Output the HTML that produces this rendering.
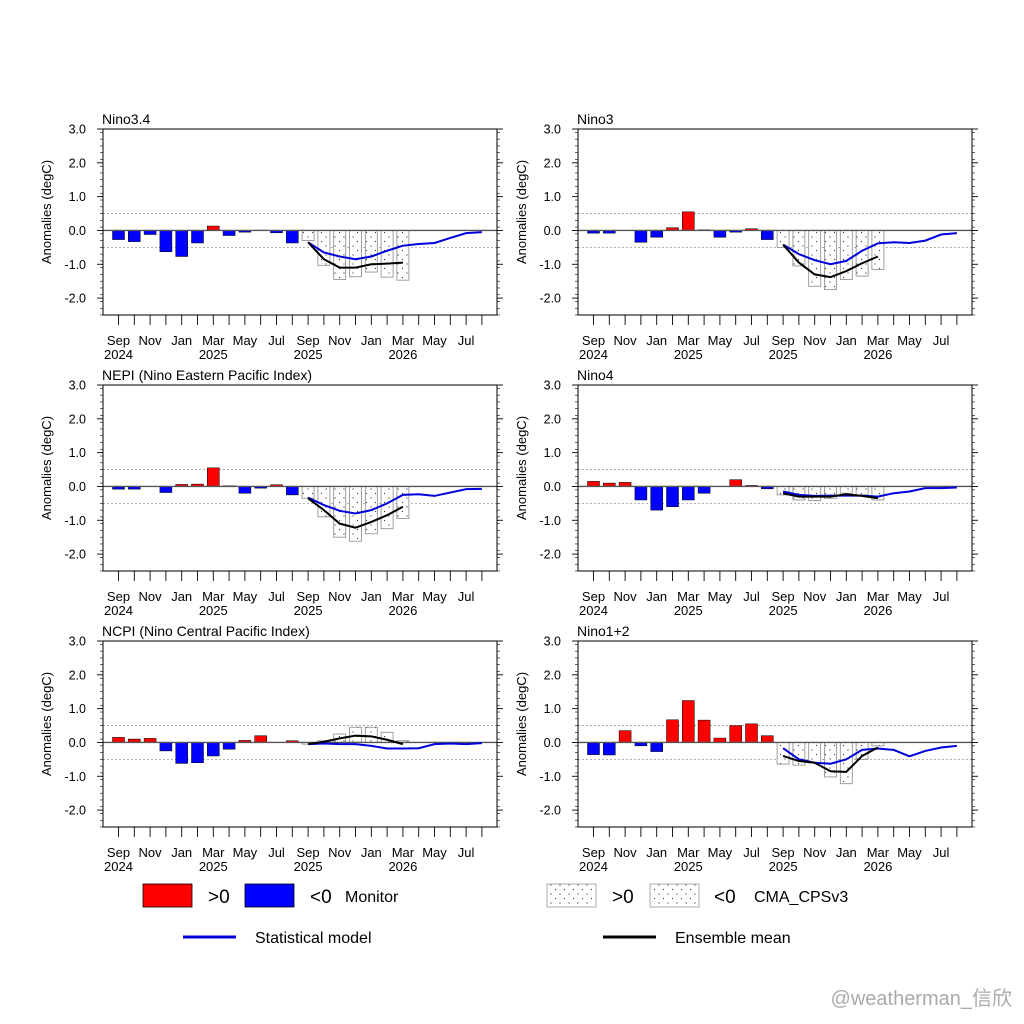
<!DOCTYPE html>
<html><head><meta charset="utf-8">
<style>
body{margin:0;background:#fff;}
svg{display:block;font-family:"Liberation Sans",Arial,sans-serif;}
</style></head>
<body>
<svg id="chart" width="1024" height="1024" viewBox="0 0 1024 1024">
<defs>
<pattern id="stip" width="9" height="9" patternUnits="userSpaceOnUse">
<rect width="9" height="9" fill="#fff"/><circle cx="2" cy="3" r="0.6" fill="#333"/><circle cx="6.5" cy="7.5" r="0.6" fill="#333"/>
</pattern>
</defs>
<g id="panels"></g>
<g>
<rect x="143" y="884" width="49" height="23" fill="#f00" stroke="#000" stroke-width="0.8"/>
<text x="208" y="903" font-size="19">&gt;0</text>
<rect x="245" y="884" width="49" height="23" fill="#00f" stroke="#000" stroke-width="0.8"/>
<text x="310" y="903" font-size="19">&lt;0</text>
<text x="345" y="902" font-size="16">Monitor</text>
<rect x="547" y="884" width="49" height="23" fill="url(#stip)" stroke="#999" stroke-width="0.8"/>
<text x="612" y="903" font-size="19">&gt;0</text>
<rect x="650" y="884" width="49" height="23" fill="url(#stip)" stroke="#999" stroke-width="0.8"/>
<text x="714" y="903" font-size="19">&lt;0</text>
<text x="754" y="902" font-size="16">CMA_CPSv3</text>
<line x1="183" y1="937" x2="236" y2="937" stroke="#0000dd" stroke-width="3"/>
<text x="255" y="943" font-size="16">Statistical model</text>
<line x1="603" y1="937" x2="656" y2="937" stroke="#000" stroke-width="3"/>
<text x="675" y="943" font-size="16">Ensemble mean</text>
</g>
<text x="1012" y="1005" font-size="20" fill="#aaa" text-anchor="end" font-family="'Liberation Sans','Noto Sans CJK SC',sans-serif">@weatherman_信欣</text>
</svg>
<script>
const titles=["Nino3.4","Nino3","NEPI (Nino Eastern Pacific Index)","Nino4","NCPI (Nino Central Pacific Index)","Nino1+2"];
const monthLabels=["Sep","Nov","Jan","Mar","May","Jul","Sep","Nov","Jan","Mar","May","Jul"];
const yearLabels=["2024","","","2025","","","2025","","","2026","",""];
const yTicks=[3,2,1,0,-1,-2];
const monitorN34=[-0.27,-0.33,-0.12,-0.63,-0.77,-0.37,0.13,-0.15,-0.05,0.01,-0.07,-0.37];
const cmaN34=[-0.3,-1.03,-1.45,-1.37,-1.23,-1.38,-1.47];
const statN34=[-0.35,-0.65,-0.77,-0.85,-0.77,-0.6,-0.45,-0.4,-0.37,-0.22,-0.08,-0.05];
const ensN34=[-0.35,-0.85,-1.1,-1.1,-1.0,-0.98,-0.95];
const monitorN3=[-0.08,-0.08,0,-0.35,-0.2,0.08,0.55,0.02,-0.2,-0.05,0.05,-0.27];
const cmaN3=[-0.5,-1.05,-1.65,-1.75,-1.45,-1.35,-1.15];
const statN3=[-0.42,-0.7,-0.88,-1.0,-0.9,-0.6,-0.38,-0.35,-0.37,-0.3,-0.12,-0.08];
const ensN3=[-0.42,-0.95,-1.3,-1.38,-1.2,-0.97,-0.77];
const monitorNEPI=[-0.08,-0.08,0,-0.18,0.06,0.07,0.55,0.02,-0.2,-0.05,0.05,-0.25];
const cmaNEPI=[-0.35,-0.9,-1.5,-1.62,-1.4,-1.25,-0.95];
const statNEPI=[-0.33,-0.55,-0.72,-0.8,-0.7,-0.5,-0.25,-0.23,-0.28,-0.18,-0.08,-0.07];
const ensNEPI=[-0.35,-0.7,-1.1,-1.22,-1.05,-0.85,-0.6];
const monitorN4=[0.15,0.1,0.12,-0.4,-0.7,-0.6,-0.4,-0.2,0,0.2,0.03,-0.07];
const cmaN4=[-0.25,-0.4,-0.42,-0.35,-0.2,-0.25,-0.4];
const statN4=[-0.15,-0.25,-0.28,-0.27,-0.27,-0.27,-0.3,-0.2,-0.15,-0.05,-0.05,-0.03];
const ensN4=[-0.2,-0.3,-0.3,-0.3,-0.23,-0.28,-0.35];
const monitorNCPI=[0.15,0.1,0.12,-0.25,-0.62,-0.6,-0.4,-0.2,0.06,0.2,0.0,0.05];
const cmaNCPI=[-0.05,0.05,0.25,0.45,0.45,0.3,0.05];
const statNCPI=[-0.05,-0.03,-0.05,-0.05,-0.1,-0.18,-0.18,-0.17,-0.05,-0.03,-0.05,-0.02];
const ensNCPI=[-0.05,0.02,0.12,0.2,0.18,0.08,-0.05];
const monitorN12=[-0.36,-0.37,0.35,-0.1,-0.27,0.67,1.24,0.66,0.13,0.5,0.55,0.2];
const cmaN12=[-0.64,-0.67,-0.6,-1.02,-1.22,-0.5,-0.1];
const statN12=[-0.17,-0.5,-0.6,-0.63,-0.5,-0.22,-0.18,-0.22,-0.41,-0.25,-0.15,-0.1];
const ensN12=[-0.4,-0.55,-0.6,-0.85,-0.87,-0.4,-0.15];
const monitors=[monitorN34,monitorN3,monitorNEPI,monitorN4,monitorNCPI,monitorN12];
const cmas=[cmaN34,cmaN3,cmaNEPI,cmaN4,cmaNCPI,cmaN12];
const stats=[statN34,statN3,statNEPI,statN4,statNCPI,statN12];
const enss=[ensN34,ensN3,ensNEPI,ensN4,ensNCPI,ensN12];
const NS="http://www.w3.org/2000/svg";
const root=document.getElementById('panels');
function mk(tag,attrs,parent){const e=document.createElementNS(NS,tag);for(const k in attrs)e.setAttribute(k,attrs[k]);parent.appendChild(e);return e;}
for(let p=0;p<6;p++){
  const ox=103+(p%2)*475, oy=129+Math.floor(p/2)*256;
  const W=394,H=186;
  const ymap=v=>oy+(3-v)*H/5.5;
  const xmap=i=>ox+15.5+i*15.8;
  const g=mk('g',{},root);
  
  
  const t=mk('text',{x:ox-1,y:oy-5,'font-size':14},g);t.textContent=titles[p];
  
  
  const yl=mk('text',{x:0,y:0,'font-size':13,'text-anchor':'middle',transform:`translate(${ox-52},${oy+H/2-10}) rotate(-90)`},g);yl.textContent='Anomalies (degC)';
  
  
  for(let k=-25;k<=30;k+=2){const y=ymap(k/10);
    mk('line',{x1:ox-3,x2:ox,y1:y,y2:y,stroke:'#000','stroke-width':0.6},g);
    mk('line',{x1:ox+W,x2:ox+W+3,y1:y,y2:y,stroke:'#000','stroke-width':0.6},g);}
  yTicks.forEach(v=>{const y=ymap(v);
    mk('line',{x1:ox-6,x2:ox,y1:y,y2:y,stroke:'#000','stroke-width':0.9},g);
    mk('line',{x1:ox+W,x2:ox+W+6,y1:y,y2:y,stroke:'#000','stroke-width':0.9},g);
    const tl=mk('text',{x:ox-17,y:y+4.5,'font-size':12.5,'text-anchor':'end'},g);tl.textContent=v.toFixed(1);
    
    });
  mk('line',{x1:ox,x2:ox+W,y1:ymap(0.5),y2:ymap(0.5),stroke:'#999','stroke-width':0.8,'stroke-dasharray':'2,2'},g);
  mk('line',{x1:ox,x2:ox+W,y1:ymap(-0.5),y2:ymap(-0.5),stroke:'#999','stroke-width':0.8,'stroke-dasharray':'2,2'},g);
  monitors[p].forEach((v,i)=>{const y0=ymap(0),y1=ymap(v);
    const r=mk('rect',{x:xmap(i)-6,y:Math.min(y0,y1),width:12,height:Math.abs(y1-y0),fill:v>=0?'#f00':'#00f',stroke:'#000','stroke-width':0.5},g);
    
    });
  cmas[p].forEach((v,i)=>{const y0=ymap(0),y1=ymap(v);
    const r=mk('rect',{x:xmap(i+12)-6,y:Math.min(y0,y1),width:12,height:Math.abs(y1-y0),fill:'url(#stip)',stroke:'#888','stroke-width':0.8},g);
    
    });
  mk('line',{x1:ox,x2:ox+W,y1:ymap(0),y2:ymap(0),stroke:'#555','stroke-width':1.3},g);
  const sp=mk('polyline',{points:stats[p].map((v,i)=>xmap(i+12)+','+ymap(v)).join(' '),fill:'none',stroke:'#0000dd','stroke-width':2},g);
  
  
  const ep=mk('polyline',{points:enss[p].map((v,i)=>xmap(i+12)+','+ymap(v)).join(' '),fill:'none',stroke:'#000','stroke-width':2},g);
  
  
  mk('rect',{x:ox,y:oy,width:W,height:H,fill:'none',stroke:'#000','stroke-width':1},g);
  for(let i=0;i<24;i++){mk('line',{x1:xmap(i),x2:xmap(i),y1:oy+H,y2:oy+H+10,stroke:'#000','stroke-width':0.9},g);}
  monthLabels.forEach((m,j)=>{const x=xmap(j*2);
    const a=mk('text',{x:x,y:oy+H+30,'font-size':13,'text-anchor':'middle'},g);a.textContent=m;
    
    
    if(yearLabels[j]){const b=mk('text',{x:x,y:oy+H+44,'font-size':13,'text-anchor':'middle'},g);b.textContent=yearLabels[j];
    
    }});
}
</script>
</body></html>
